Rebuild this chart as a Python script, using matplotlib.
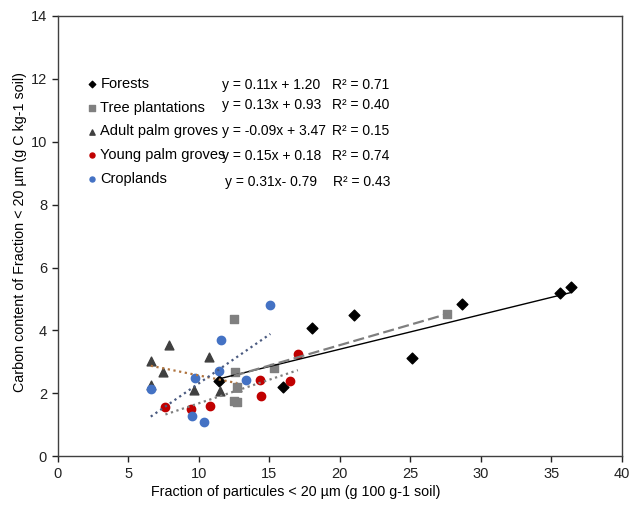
import numpy as np
import matplotlib.pyplot as plt

plt.rcParams['font.family'] = ['Liberation Sans', 'DejaVu Sans']

# fraction < 20 um (x) and carbon content of that fraction (y), per land use
forests_x = [11.45, 18.07, 21.03, 25.12, 15.97, 28.67, 35.66, 36.42]
forests_y = [2.39, 4.09, 4.49, 3.11, 2.19, 4.85, 5.20, 5.39]

tree_x = [12.54, 12.59, 12.71, 12.50, 12.75, 15.38, 27.60]
tree_y = [4.36, 2.67, 2.20, 1.75, 1.71, 2.82, 4.53]

adult_x = [7.93, 6.61, 7.48, 10.77, 6.61, 9.68, 11.50, 12.70]
adult_y = [3.52, 3.03, 2.67, 3.14, 2.26, 2.10, 2.07, 2.20]

young_x = [7.65, 9.47, 10.79, 17.04, 14.38, 16.51, 14.45]
young_y = [1.57, 1.51, 1.60, 3.26, 2.41, 2.39, 1.91]

crop_x = [11.57, 11.48, 9.77, 6.61, 9.52, 10.37, 15.09, 13.39]
crop_y = [3.69, 2.70, 2.49, 2.14, 1.29, 1.10, 4.81, 2.41]

# trendline coefficients (slope, intercept, R2)
fits = {
    'forests': (0.11, 1.20, 0.71),
    'tree': (0.13, 0.93, 0.40),
    'adult': (-0.09, 3.47, 0.15),
    'young': (0.15, 0.18, 0.74),
    'crop': (0.31, -0.79, 0.43),
}

fig = plt.figure(figsize=(6.37, 5.07), dpi=100)
ax = fig.add_axes([0.0903, 0.1002, 0.8857, 0.8684])

ax.scatter(forests_x, forests_y, marker='D', s=30, color='black', label='Forests', zorder=3)
ax.scatter(tree_x, tree_y, marker='s', s=38, color='#808080', label='Tree plantations', zorder=4)
ax.scatter(adult_x, adult_y, marker='^', s=40, color='#404040', label='Adult palm groves', zorder=3)
ax.scatter(young_x, young_y, marker='o', s=36, color='#C00000', label='Young palm groves', zorder=3)
ax.scatter(crop_x, crop_y, marker='o', s=36, color='#4472C4', label='Croplands', zorder=3)

def trend(xs, key, **kw):
    a, b, _ = fits[key]
    xx = np.array([min(xs), max(xs)])
    ax.plot(xx, a * xx + b, zorder=5, **kw)

trend(forests_x, 'forests', color='black', lw=1.0)
trend(tree_x, 'tree', color='#7f7f7f', lw=1.6, dashes=(5, 2))
trend(adult_x, 'adult', color='#B0743F', lw=1.6, dashes=(1, 1.6))
trend(young_x, 'young', color='#7f7f7f', lw=1.6, dashes=(1, 1.6))
trend(crop_x, 'crop', color='#4A5A80', lw=1.6, dashes=(1, 1.6))

ax.set_xlim(0, 40)
ax.set_ylim(0, 14)
ax.set_xticks(range(0, 41, 5))
ax.set_yticks(range(0, 15, 2))
ax.tick_params(direction='out', length=4, width=1, labelsize=10.5, colors='#222222')
for s in ax.spines.values():
    s.set_color('#404040')
    s.set_linewidth(1.0)

ax.legend(loc='upper left', bbox_to_anchor=(0.05, 0.861), frameon=False,
          fontsize=10.5, handlelength=0.8, handletextpad=0.2, labelspacing=0.66,
          markerscale=0.6, borderaxespad=0, borderpad=0)

# equation labels
eq_pos = {'forests': 85, 'tree': 105, 'adult': 131, 'young': 156, 'crop': 182}
eq_x = {'forests': 222, 'tree': 222, 'adult': 222, 'young': 222, 'crop': 225}
r2_x = {'forests': 332, 'tree': 332, 'adult': 332, 'young': 332, 'crop': 333}
for k, (a, b, r2) in fits.items():
    sign = '+' if b >= 0 else '-'
    if k == 'crop':
        eq = 'y = %.2fx- %.2f' % (a, abs(b))
    else:
        eq = 'y = %.2fx %s %.2f' % (a, sign, abs(b))
    py = 1 - eq_pos[k] / 507
    fig.text(eq_x[k] / 637, py, eq, fontsize=10, va='center', ha='left')
    fig.text(r2_x[k] / 637, py, 'R² = %.2f' % r2, fontsize=10, va='center', ha='left')

fig.text(296 / 637, 1 - 492 / 507, 'Fraction of particules < 20 µm (g 100 g-1 soil)',
         fontsize=10.3, ha='center', va='center')
fig.text(20 / 637, 1 - 232 / 507, 'Carbon content of Fraction < 20 µm (g C kg-1 soil)',
         fontsize=10.3, ha='center', va='center', rotation=90)

fig.savefig('out.png', dpi=100)
